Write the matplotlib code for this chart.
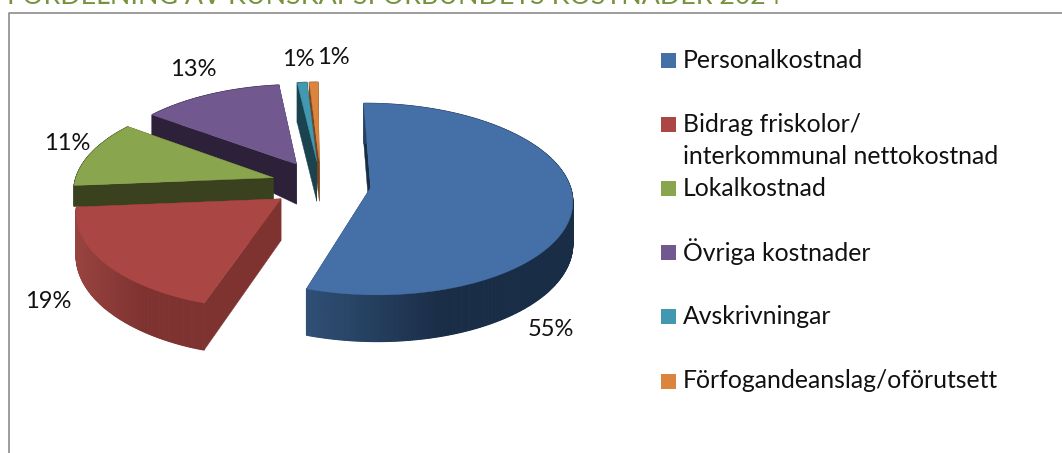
import numpy as np
import matplotlib
matplotlib.use('Agg')
import matplotlib.pyplot as plt
from matplotlib.colors import to_rgb
from matplotlib.patches import Polygon, Rectangle

plt.rcParams['font.family'] = ['Lato', 'DejaVu Sans']

title = 'FÖRDELNING AV KUNSKAPSFÖRBUNDETS KOSTNADER 2024'
categories = ['Personalkostnad', 'Bidrag friskolor/\ninterkommunal nettokostnad', 'Lokalkostnad',
              'Övriga kostnader', 'Avskrivningar', 'Förfogandeanslag/oförutsett']
values = [55.2, 18.6, 11.45, 13.05, 0.9, 0.8]
percent_labels = ['55%', '19%', '11%', '13%', '1%', '1%']

colors = ['#4570A7', '#AA4643', '#89A54E', '#71588F', '#4198AF', '#DB843D']
wall_light = ['#2F4F75', '#984340', '#3A411E', '#2D2139', '#1A424F', '#7A451C']
wall_dark = ['#1A2D47', '#7F3331', '#3A411E', '#2D2139', '#1A424F', '#7A451C']
label_xy = [(551, 329), (48, 301), (67, 143), (193, 69), (298, 59), (333, 58)]

# pie geometry, in picture pixels
cx, cy = 321, 184
radius = 199
explode = 50
tilt = 0.47
persp = 0.119 / radius
start = -0.5


def depth(p):
    # side walls get thinner towards the back left
    if p[1] < 190 and p[0] < 200:
        return 21
    return np.interp(p[1], [165, 300], [40, 47])


def slice_points(t0, t1):
    mid = (t0 + t1) / 2
    ex = explode * np.sin(np.radians(mid))
    ey = explode * np.cos(np.radians(mid))
    angles = np.linspace(t0, t1, max(int(t1 - t0) * 2, 4))
    xs = radius * np.sin(np.radians(angles)) + ex
    ys = radius * np.cos(np.radians(angles)) + ey
    f = 1 / (1 + persp * ys)
    arc = np.column_stack([cx + xs * f, cy - tilt * ys * f])
    f0 = 1 / (1 + persp * ey)
    apex = np.array([cx + ex * f0, cy - tilt * ey * f0])
    return apex, arc


def down(p):
    return np.array([p[0], p[1] + depth(p)])


fig = plt.figure(figsize=(10.62, 4.53), dpi=100)
ax = fig.add_axes([0, 0, 1, 1])
ax.set_xlim(0, 1062)
ax.set_ylim(453, 0)
ax.axis('off')

ax.text(7, 3.5, title, color='#76923C', fontsize=19.3, va='baseline', ha='left')
ax.plot([8.5, 8.5, 1062], [453, 12.5, 12.5], color='#8C8C8C', lw=1.2)

# start and end angle of every slice
ends = np.cumsum(values) / np.sum(values) * 360 + start
begins = np.r_[start, ends[:-1]]

# back to front
for i in [5, 4, 3, 2, 1, 0]:
    z = 2 + 5 - i
    apex, arc = slice_points(begins[i], ends[i])
    for edge in [arc[0], arc[-1]]:
        face = [apex, edge, down(edge), down(apex)]
        ax.add_patch(Polygon(face, closed=True, fc=wall_dark[i], ec=wall_dark[i], lw=0.3, zorder=z))
    # curved wall, shaded in strips
    c0 = np.array(to_rgb(wall_light[i]))
    c1 = np.array(to_rgb(wall_dark[i]))
    for j in range(len(arc) - 1):
        a, b = arc[j], arc[j + 1]
        frac = (min(a[0], b[0]) - arc[:, 0].min()) / max(np.ptp(arc[:, 0]), 1)
        col = c0 + (c1 - c0) * min(frac * 2, 1)
        ax.add_patch(Polygon([a, b, down(b), down(a)], closed=True, fc=col, ec=col, lw=0.8, zorder=z))
    ax.add_patch(Polygon(np.vstack([apex, arc]), closed=True, fc=colors[i], ec=colors[i], lw=0.3, zorder=z))

for text, (x, y) in zip(percent_labels, label_xy):
    ax.text(x, y, text, fontsize=17, color='#111111', ha='center', va='center', zorder=20)

# legend
legend_y = [60, 124, 188, 252, 316, 381]
for name, col, y in zip(categories, colors, legend_y):
    ax.add_patch(Rectangle((661, y - 7.5), 15, 15, fc=col, ec='none'))
    lines = name.split('\n')
    for k, line in enumerate(lines):
        ax.text(683, y + k * 32, line, fontsize=17.8, color='#111111', ha='left', va='center')

fig.savefig('out.png', dpi=100)
